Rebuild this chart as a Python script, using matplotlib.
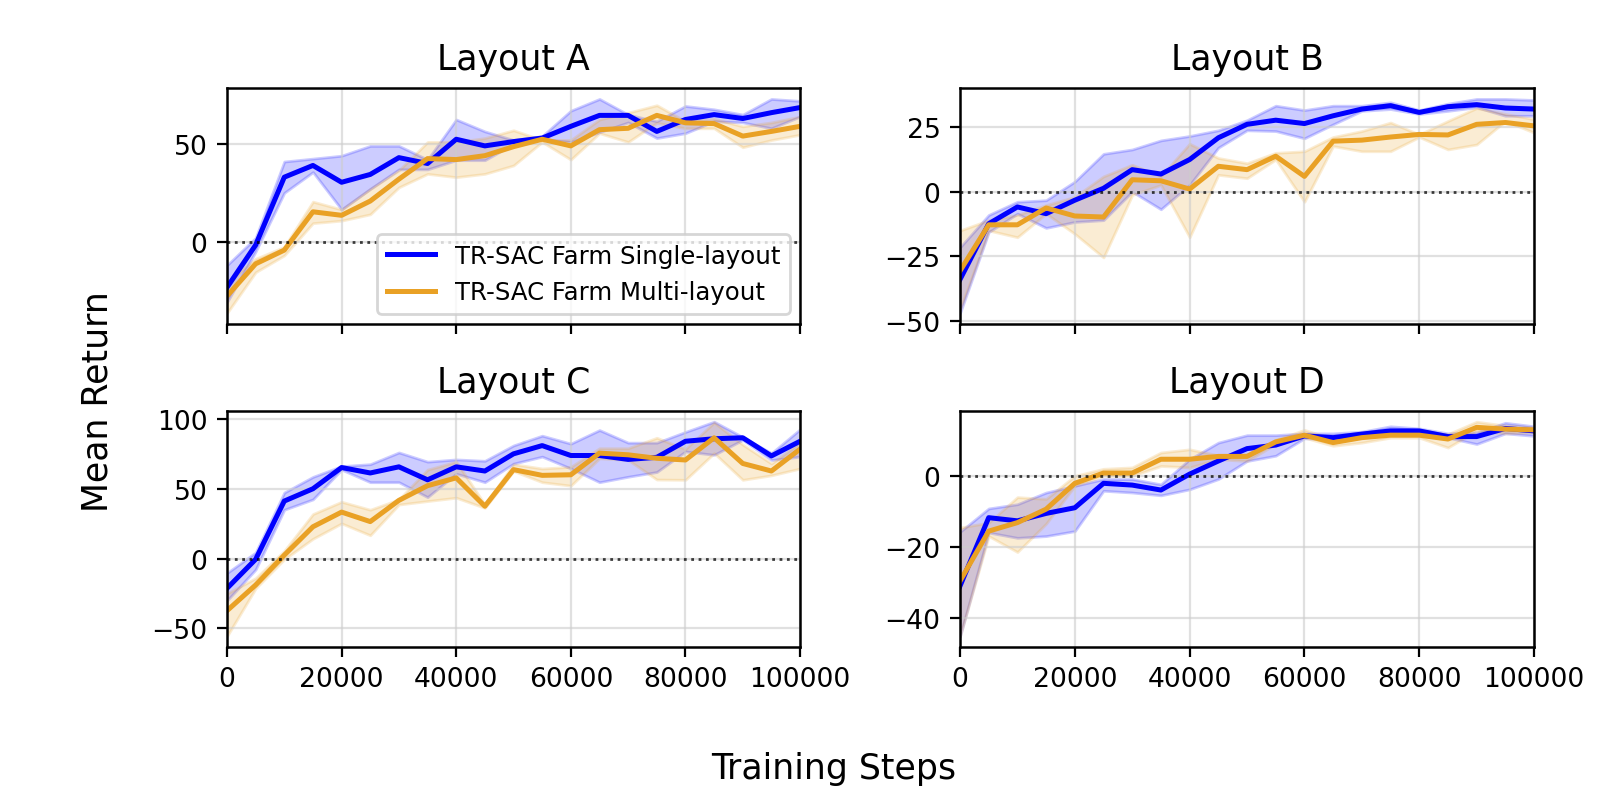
import numpy as np
import matplotlib
matplotlib.use('Agg')
import matplotlib.pyplot as plt

steps = np.arange(0, 100001, 5000)

# Layout A
a_single = [-23.4, -1.7, 33, 39, 30.4, 34.4, 43, 40, 52.4, 49, 51.2, 53, 59, 64.6, 64.6, 56.4, 62.5, 65, 63, 66, 68.6]
a_single_hi = [-12, 2, 41, 42.5, 44, 49, 49, 42, 62.5, 56.4, 52, 54, 67, 73, 65, 61.6, 69.4, 67.7, 65, 73, 72]
a_single_lo = [-31, -5, 25, 35.6, 16.5, 27, 37, 37, 41.7, 41.7, 50, 52.4, 51, 56, 61, 53, 55.5, 61.6, 61, 58, 64]
a_multi = [-27.8, -11.3, -4.3, 15.3, 13.5, 20.8, 32, 42.5, 42, 44, 48.6, 52.4, 49, 57.3, 58, 64.6, 60.8, 60.4, 54, 56.4, 59]
a_multi_hi = [-21, -8.7, -2.6, 20.5, 16.5, 27, 36.5, 51, 51, 53, 57, 52, 52, 62.5, 66, 69.8, 61.6, 62.8, 59, 61, 64]
a_multi_lo = [-36.5, -15.6, -7, 9.5, 10.8, 14, 27.8, 34.7, 33, 34.7, 39, 51, 42, 55.5, 51, 60.8, 58, 58, 48.3, 52, 54.7]

# Layout B
b_single = [-33.9, -12.4, -5.9, -8.5, -3.3, 1.3, 8.5, 6.8, 12.4, 20.8, 26, 27.6, 26.3, 29.3, 31.9, 33.2, 30.6, 32.8, 33.6, 32.3, 31.9]
b_single_hi = [-21.5, -9, -3.9, -3.3, 3.9, 14.6, 16.3, 19.8, 21.5, 23.7, 27.6, 33.2, 31.5, 33.2, 33.2, 34.5, 31.5, 34, 35.8, 35.8, 35.4]
b_single_lo = [-46.9, -15.6, -8.5, -14, -11.7, -11, 0, -6.8, 2.6, 17, 23.7, 23.4, 20.6, 26, 31.2, 31.9, 30, 31.2, 32.6, 29.3, 29.3]
b_multi = [-30.6, -12.8, -12.8, -6.3, -9.4, -9.8, 4.6, 4.2, 1, 9.8, 8.5, 13.7, 5.9, 19.5, 19.9, 21.1, 22.1, 21.9, 26, 26.7, 25.4]
b_multi_hi = [-15, -11, -9, -5.2, -2, 5.9, 10.4, 6, 18.5, 13, 11, 15, 15.6, 21.1, 23.4, 26.7, 22.1, 27.3, 32.3, 30, 28]
b_multi_lo = [-45.6, -15, -17.6, -8.5, -16.3, -25.4, -1.3, 2.6, -17.6, 6.5, 5.2, 12.4, -3.9, 17.6, 15.6, 15.6, 21.1, 16.3, 18.2, 27.3, 22.8]

# Layout C
c_single = [-21.3, -0.5, 41.2, 50, 65.2, 61.3, 65.7, 56.4, 65.7, 62.7, 75, 80.9, 73.8, 73.8, 71, 72.5, 84, 85.8, 86.5, 73.5, 84]
c_single_hi = [-10.3, 4.4, 47.3, 58.5, 66.2, 67.6, 76, 69.4, 71, 70, 81, 88, 82.3, 92, 83, 83, 90.7, 98, 87, 75.5, 92.6]
c_single_lo = [-30, -7.8, 35, 42.4, 63.7, 54.7, 54.7, 44, 60.8, 54.7, 68, 73, 64.5, 54.7, 58.6, 62, 76.7, 74.3, 85, 70.6, 73]
c_multi = [-37.3, -18.9, 2.5, 22.8, 33.3, 26.5, 41.7, 52.2, 57.8, 37.5, 63.7, 59.6, 60, 75.5, 74.3, 71.8, 70.6, 86.5, 68.1, 62.7, 78.4]
c_multi_hi = [-25, -14, 5.6, 31.9, 40.7, 35, 42.4, 63.7, 69.4, 38.7, 67.6, 64.5, 65.7, 79, 79, 86.5, 78.4, 97.5, 81.6, 68.1, 83]
c_multi_lo = [-55.6, -21.3, -0.5, 14.2, 25.2, 16.7, 38.7, 41.2, 43.6, 36.3, 62.7, 54.7, 52.2, 71.8, 70.6, 56.6, 56.4, 75.5, 56.4, 59.6, 64.5]

# Layout D
d_single = [-31.1, -11.8, -12.7, -10.6, -9, -2.1, -2.6, -4, 0.5, 4.2, 7.7, 8.7, 11.3, 10.8, 11.8, 12.7, 12.7, 11.1, 11.1, 13.4, 12.7]
d_single_hi = [-15.8, -9.2, -8, -4.7, -2.8, -0.9, -0.9, -2.4, 4.7, 9.4, 11.5, 11.5, 12, 12, 12.5, 14, 13.4, 12, 12.3, 15, 14]
d_single_lo = [-45.3, -16, -17.5, -17, -15.6, -4.2, -4.7, -5.5, -3.8, -0.9, 4.2, 5.7, 10.6, 10.4, 10.8, 11.8, 11.8, 10.8, 9, 12, 11.3]
d_multi = [-29.7, -15.6, -13.2, -9.4, -2.1, 0.8, 0.8, 4.7, 4.7, 5.5, 5.5, 9.6, 11.5, 9.4, 10.8, 11.5, 11.5, 10.4, 13.7, 13.2, 13]
d_multi_hi = [-14.6, -13.2, -6, -6.5, 0, 2, 2.4, 6.6, 7.5, 5.8, 6.1, 10.2, 13, 10.4, 12.3, 12.5, 12.3, 11.8, 15.3, 14.2, 13.7]
d_multi_lo = [-45.3, -17, -21.5, -13.5, -2.8, 0, 0, 2.8, 2.4, 4.7, 4.2, 9, 10.8, 8.5, 9.4, 10.8, 10.8, 8, 12.7, 12, 12.3]

titles = ['Layout A', 'Layout B', 'Layout C', 'Layout D']
panels = [
    (a_single, a_single_lo, a_single_hi, a_multi, a_multi_lo, a_multi_hi),
    (b_single, b_single_lo, b_single_hi, b_multi, b_multi_lo, b_multi_hi),
    (c_single, c_single_lo, c_single_hi, c_multi, c_multi_lo, c_multi_hi),
    (d_single, d_single_lo, d_single_hi, d_multi, d_multi_lo, d_multi_hi),
]
yticks = [[0, 50], [-50, -25, 0, 25], [-50, 0, 50, 100], [-40, -20, 0]]

BLUE = '#0000ff'
ORANGE = '#e9a125'

fig = plt.figure(figsize=(8.02, 4.02), dpi=200)
# left, bottom, width, height in figure fractions
boxes = [
    (0.1415, 0.596, 0.3573, 0.293),
    (0.5985, 0.596, 0.3579, 0.293),
    (0.1415, 0.194, 0.3573, 0.2936),
    (0.5985, 0.194, 0.3579, 0.2936),
]

for i, (box, data) in enumerate(zip(boxes, panels)):
    ax = fig.add_axes(box)
    s, s_lo, s_hi, m, m_lo, m_hi = data
    ax.plot(steps, s, color=BLUE, lw=1.8, label='TR-SAC Farm Single-layout')
    ax.fill_between(steps, s_lo, s_hi, color=BLUE, alpha=0.2)
    ax.plot(steps, m, color=ORANGE, lw=1.8, label='TR-SAC Farm Multi-layout')
    ax.fill_between(steps, m_lo, m_hi, color=ORANGE, alpha=0.2)
    ax.axhline(0, color='black', ls=':', lw=1.0, alpha=0.75)
    ax.set_xlim(0, 100000)
    ax.set_xticks([0, 20000, 40000, 60000, 80000, 100000])
    ax.set_yticks(yticks[i])
    ax.grid(True, color='#cccccc', alpha=0.6, lw=0.8)
    ax.set_title(titles[i], fontsize=12.5, pad=7)
    ax.tick_params(labelsize=9.6, length=3.5, width=0.8)
    if i < 2:
        ax.set_xticklabels([])
    for sp in ax.spines.values():
        sp.set_linewidth(0.9)
    if i == 0:
        ax.legend(loc='lower right', fontsize=8.8, framealpha=0.8, handlelength=2.0,
                  borderaxespad=0.4)

fig.text(0.52, 0.044, 'Training Steps', ha='center', va='center', fontsize=12.5)
fig.text(0.0605, 0.5, 'Mean Return', ha='center', va='center', rotation=90, fontsize=12.5)

fig.savefig('out.png', dpi=200)
